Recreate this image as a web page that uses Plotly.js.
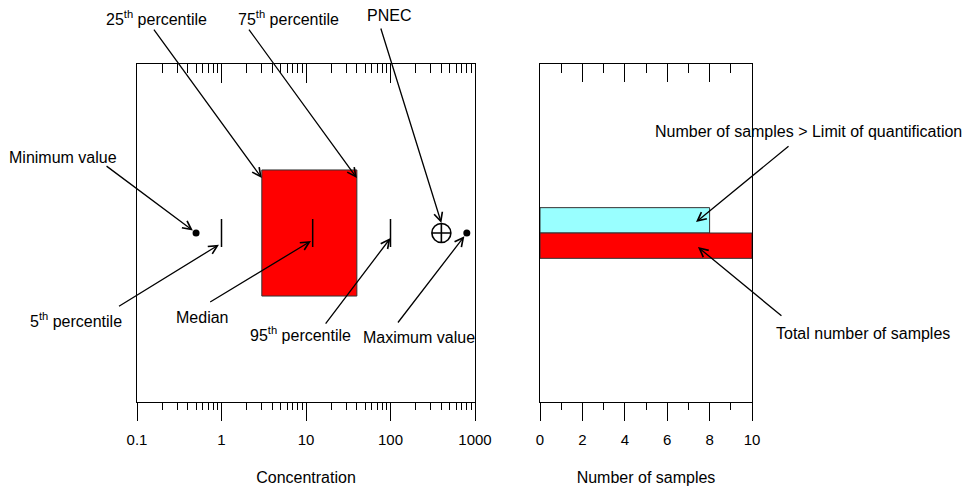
<!DOCTYPE html>
<html>
<head>
<meta charset="utf-8">
<script src="https://cdn.plot.ly/plotly-3.0.1.min.js"></script>
<style>html,body{margin:0;padding:0;background:#fff;}#chart{width:967px;height:486px;}</style>
</head>
<body>
<div id="chart"></div>
<script>
// ---- data ----
const statLabels = ['Minimum value', '5th percentile', '25th percentile', 'Median', '75th percentile', '95th percentile', 'Maximum value'];
const statValues = [0.5, 1, 3, 12, 40, 100, 800];
const pnecValue = [400];
const sampleCategories = ['Number of samples > Limit of quantification', 'Total number of samples'];
const sampleCounts = [8, 10];
const concTickValues = [0.1, 1, 10, 100, 1000];
const concTickLabels = ['0.1', '1', '10', '100', '1000'];
const countTickValues = [0, 2, 4, 6, 8, 10];

const v = {};
statLabels.forEach((k, i) => v[k] = statValues[i]);

// ---- geometry helpers (layout only) ----
const W = 967, H = 486;
const M = {l: 137, r: 215, t: 64, b: 84};
const PW = W - M.l - M.r, PH = H - M.t - M.b;
const px = x => (x - M.l) / PW;
const py = y => (H - M.b - y) / PH;

const boxHalf = 0.373, yMid = 1;
const barW = 0.15;

const traces = [
  { // interquartile box
    type: 'scatter', mode: 'lines', xaxis: 'x', yaxis: 'y',
    x: [v['25th percentile'], v['75th percentile'], v['75th percentile'], v['25th percentile'], v['25th percentile']],
    y: [yMid - boxHalf, yMid - boxHalf, yMid + boxHalf, yMid + boxHalf, yMid - boxHalf],
    fill: 'toself', fillcolor: '#FF0000', line: {color: '#333', width: 1}, hoverinfo: 'skip'
  },
  { // 5th, median, 95th marks
    type: 'scatter', mode: 'markers', xaxis: 'x', yaxis: 'y',
    x: [v['5th percentile'], v['Median'], v['95th percentile']], y: [yMid, yMid, yMid],
    marker: {symbol: 'line-ns-open', size: 20, color: 'black', line: {color: 'black', width: 1.5}}
  },
  { // min & max points
    type: 'scatter', mode: 'markers', xaxis: 'x', yaxis: 'y',
    x: [v['Minimum value'], v['Maximum value']], y: [yMid, yMid],
    marker: {symbol: 'circle', size: 7, color: 'black'}
  },
  { // PNEC
    type: 'scatter', mode: 'markers', xaxis: 'x', yaxis: 'y',
    x: pnecValue, y: [yMid],
    marker: {symbol: 'circle-cross-open', size: 19, color: 'black', line: {color: 'black', width: 1.6}}
  },
  { // sample counts
    type: 'bar', orientation: 'h', xaxis: 'x2', yaxis: 'y2',
    x: sampleCounts, y: [yMid + barW / 2, yMid - barW / 2], width: barW,
    text: sampleCategories, textposition: 'none', hoverinfo: 'x+text',
    marker: {color: ['#99FFFF', '#FF0000'], line: {color: '#333', width: 1}}
  },
  // empty traces so the top (inside-tick) axes are drawn
  {type: 'scatter', mode: 'markers', xaxis: 'x3', yaxis: 'y', x: [], y: [], hoverinfo: 'skip'},
  {type: 'scatter', mode: 'markers', xaxis: 'x4', yaxis: 'y2', x: [], y: [], hoverinfo: 'skip'}
];

const font = {family: 'Liberation Sans, Arial, sans-serif', size: 16, color: 'black'};
const L = Math.log10;

function arrow(xref, yref, x, y, ax, ay, standoff) {
  return {xref, yref, x, y, ax, ay, axref: 'pixel', ayref: 'pixel', text: '', showarrow: true,
    arrowhead: 5, arrowsize: 1.3, arrowwidth: 1.3, arrowcolor: 'black', standoff: standoff || 0};
}
function label(text, cx, cy) {
  return {xref: 'paper', yref: 'paper', x: px(cx), y: py(cy), text, showarrow: false,
    xanchor: 'center', yanchor: 'middle', font};
}

const annotations = [
  label('25<sup>th</sup> percentile', 156, 18),
  label('75<sup>th</sup> percentile', 288, 18),
  label('PNEC', 389, 16),
  label(statLabels[0], 63, 157),
  label('5<sup>th</sup> percentile', 76, 320),
  label(statLabels[3], 202, 317),
  label('95<sup>th</sup> percentile', 300, 334),
  label(statLabels[6], 419, 337),
  label(sampleCategories[0], 808, 131),
  label(sampleCategories[1], 863, 333),
  arrow('x', 'y', L(v['25th percentile']), 1.325, -109, -150),
  arrow('x', 'y', L(v['75th percentile']), 1.325, -109, -150),
  arrow('x', 'y', L(pnecValue[0]), 1.059, -61, -196),
  arrow('x', 'y', L(v['Minimum value']), yMid, -91, -68, 4),
  arrow('x', 'y', L(v['5th percentile']), 0.94, -104, 64, 3),
  arrow('x', 'y', L(v['Median']), 0.959, -104, 63, 2),
  arrow('x', 'y', L(v['95th percentile']), 0.97, -66, 87),
  arrow('x', 'y', L(v['Maximum value']), yMid, -70, 91, 4),
  arrow('x2', 'y2', 7.36, 1.065, 94, -77),
  arrow('x2', 'y2', 7.45, 0.917, 85, 70)
];

const axLine = {showline: true, linecolor: 'black', linewidth: 1, mirror: true, showgrid: false, zeroline: false, fixedrange: true};
const tickStyle = {tickcolor: 'black', tickwidth: 1};

const layout = {
  width: W, height: H, margin: M,
  paper_bgcolor: 'white', plot_bgcolor: 'white', showlegend: false,
  font: {family: 'Liberation Sans, Arial, sans-serif', size: 15, color: 'black'},
  xaxis: Object.assign({}, axLine, tickStyle, {
    domain: [0, 338 / PW], anchor: 'y', type: 'log', range: [-1, 3],
    tickmode: 'array', tickvals: concTickValues, ticktext: concTickLabels,
    ticks: 'outside', ticklen: 18, ticklabelstandoff: 6,
    minor: {dtick: 'D1', ticks: 'outside', ticklen: 7, tickcolor: 'black', tickwidth: 1, showgrid: false},
    title: {text: 'Concentration', font: {size: 16}, standoff: 25}
  }),
  xaxis3: Object.assign({}, tickStyle, {
    overlaying: 'x', side: 'top', anchor: 'y', type: 'log', range: [-1, 3],
    tickmode: 'array', tickvals: concTickValues, showticklabels: false,
    ticks: 'inside', ticklen: 19, showgrid: false, zeroline: false, showline: false, fixedrange: true,
    minor: {dtick: 'D1', ticks: 'inside', ticklen: 9, tickcolor: 'black', tickwidth: 1, showgrid: false}
  }),
  yaxis: Object.assign({}, axLine, {domain: [0, 1], anchor: 'x', range: [0, 2], showticklabels: false, ticks: ''}),
  xaxis2: Object.assign({}, axLine, tickStyle, {
    domain: [403 / PW, 1], anchor: 'y2', range: [0, 10],
    tickmode: 'array', tickvals: countTickValues,
    ticks: 'outside', ticklen: 18, ticklabelstandoff: 6,
    minor: {dtick: 1, ticks: 'outside', ticklen: 7, tickcolor: 'black', tickwidth: 1, showgrid: false},
    title: {text: 'Number of samples', font: {size: 16}, standoff: 25}
  }),
  xaxis4: Object.assign({}, tickStyle, {
    overlaying: 'x2', side: 'top', anchor: 'y2', range: [0, 10],
    tickmode: 'array', tickvals: countTickValues, showticklabels: false,
    ticks: 'inside', ticklen: 18, showgrid: false, zeroline: false, showline: false, fixedrange: true,
    minor: {dtick: 1, ticks: 'inside', ticklen: 9, tickcolor: 'black', tickwidth: 1, showgrid: false}
  }),
  yaxis2: Object.assign({}, axLine, {domain: [0, 1], anchor: 'x2', range: [0, 2], showticklabels: false, ticks: ''}),
  annotations
};

Plotly.newPlot('chart', traces, layout, {displayModeBar: false, staticPlot: true});
</script>
</body>
</html>
